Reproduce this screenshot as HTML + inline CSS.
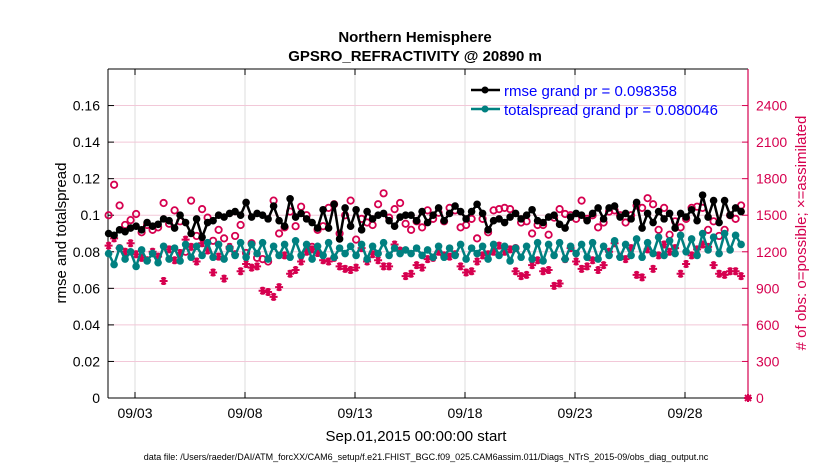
<!DOCTYPE html>
<html><head><meta charset="utf-8"><style>
body{margin:0;background:#fff;}
svg text{font-family:"Liberation Sans",sans-serif;}
</style></head><body>
<svg id="chart" width="830" height="470" xmlns="http://www.w3.org/2000/svg">
<rect width="830" height="470" fill="#fff"/>
<text x="415" y="42" font-size="15" font-weight="bold" text-anchor="middle">Northern Hemisphere</text>
<text x="415" y="61" font-size="15" font-weight="bold" text-anchor="middle">GPSRO_REFRACTIVITY @ 20890 m</text>
<g id="grid"></g>
<g id="axes"></g>
<g id="series"></g>
<text x="416" y="441" font-size="15" text-anchor="middle">Sep.01,2015 00:00:00 start</text>
<text transform="translate(66,233) rotate(-90)" font-size="15" text-anchor="middle">rmse and totalspread</text>
<text transform="translate(806,233) rotate(-90)" font-size="15" text-anchor="middle" fill="#d6004f"># of obs: o=possible; ×=assimilated</text>
<text x="426" y="460" font-size="9" text-anchor="middle">data file: /Users/raeder/DAI/ATM_forcXX/CAM6_setup/f.e21.FHIST_BGC.f09_025.CAM6assim.011/Diags_NTrS_2015-09/obs_diag_output.nc</text>
<g>
<g>
<line x1="471" y1="90" x2="500" y2="90" stroke="#000" stroke-width="2.5"/><circle cx="485" cy="90" r="3.5" fill="#000"/>
<text x="504" y="96" font-size="15" fill="#0000ff">rmse grand pr = 0.098358</text></g>
<g>
<line x1="471" y1="109" x2="500" y2="109" stroke="#008080" stroke-width="2.5"/><circle cx="485" cy="109" r="3.5" fill="#008080"/>
<text x="504" y="115" font-size="15" fill="#0000ff">totalspread grand pr = 0.080046</text></g>
</g>
</svg>
<script>
const xTickLabels=["09/03","09/08","09/13","09/18","09/23","09/28"];
const xTickDays=[2,7,12,17,22,27];
const leftTicks=[0,0.02,0.04,0.06,0.08,0.1,0.12,0.14,0.16];
const rightTicks=[0,300,600,900,1200,1500,1800,2100,2400];
const startDay=0.8, stepDay=0.25;
const rmse=[0.090,0.089,0.092,0.091,0.093,0.094,0.092,0.096,0.094,0.095,
0.098,0.097,0.093,0.100,0.096,0.090,0.098,0.088,0.096,0.097,
0.100,0.099,0.101,0.102,0.100,0.107,0.099,0.101,0.100,0.098,
0.105,0.097,0.094,0.109,0.099,0.101,0.098,0.096,0.093,0.103,
0.093,0.106,0.087,0.104,0.094,0.103,0.092,0.102,0.098,0.100,
0.101,0.097,0.094,0.099,0.100,0.100,0.097,0.102,0.096,0.100,
0.104,0.097,0.101,0.105,0.102,0.098,0.102,0.106,0.101,0.092,
0.097,0.098,0.096,0.099,0.101,0.098,0.100,0.103,0.097,0.096,
0.099,0.100,0.095,0.093,0.099,0.101,0.100,0.097,0.101,0.104,
0.098,0.104,0.105,0.099,0.101,0.098,0.107,0.093,0.101,0.096,
0.102,0.098,0.101,0.093,0.101,0.099,0.103,0.097,0.111,0.099,
0.108,0.096,0.108,0.100,0.104,0.102];
const spread=[0.079,0.073,0.082,0.076,0.080,0.072,0.081,0.075,0.079,0.074,
0.083,0.076,0.082,0.075,0.084,0.077,0.083,0.078,0.085,0.077,
0.084,0.076,0.082,0.078,0.085,0.077,0.084,0.079,0.085,0.076,
0.083,0.078,0.084,0.077,0.086,0.078,0.084,0.076,0.083,0.078,
0.085,0.077,0.082,0.079,0.083,0.078,0.084,0.076,0.083,0.079,
0.085,0.078,0.082,0.079,0.081,0.079,0.082,0.078,0.081,0.077,
0.083,0.077,0.082,0.078,0.084,0.076,0.082,0.079,0.083,0.076,
0.084,0.078,0.083,0.075,0.082,0.077,0.083,0.076,0.085,0.075,
0.084,0.078,0.085,0.076,0.083,0.079,0.084,0.077,0.085,0.076,
0.083,0.078,0.086,0.077,0.084,0.078,0.087,0.077,0.085,0.079,
0.088,0.078,0.086,0.079,0.089,0.080,0.087,0.078,0.090,0.081,
0.088,0.079,0.090,0.081,0.089,0.084];
const possible=[1500,1750,1580,1420,1460,1510,1360,1420,1380,1400,
1600,1430,1540,1450,1200,1620,1330,1550,1480,1290,
1380,1310,1230,1330,1420,1190,1270,1150,1140,1120,1620,1350,1400,1530,1410,1570,1500,1240,1380,1410,
1560,1590,1350,1500,1620,1300,1470,1440,1420,1590,
1680,1480,1550,1600,1430,1380,1450,1400,1540,1470,
1520,1450,1560,1540,1400,1420,1470,1310,1470,1360,
1540,1550,1560,1550,1230,1440,1450,1350,1420,1420,
1340,1480,1550,1510,1500,1470,1620,1470,1500,1400,
1440,1530,1540,1500,1440,1500,1580,1560,1640,1590,
1380,1560,1340,1450,1400,1470,1560,1570,1560,1380,
1450,1330,1380,1500,1470,1580];
const assimilated=[1250,1310,1230,1200,1270,1180,1150,1130,1200,1160,
960,1220,1130,1190,1300,1240,1120,1270,1210,1030,
1160,980,1240,1180,1040,1100,1070,1080,880,870,
830,910,1170,1020,1050,1120,1200,1220,1190,1130,
1120,1150,1080,1060,1050,1070,1230,1120,1180,1130,
1080,1080,1260,1210,1000,1020,1090,1070,1140,1150,
1200,1170,1160,1180,1080,1030,1040,1120,1170,1180,
1200,1250,1200,1220,1040,1000,1010,1090,1130,1040,
1050,920,940,1140,1230,1120,1060,1080,1130,1050,
1090,1200,1270,1160,1140,1230,1010,990,1220,1060,
1170,1260,1200,1230,1020,1100,1170,1220,1260,1240,
1090,1020,1010,1040,1040,1000];

const NS="http://www.w3.org/2000/svg";
const L=108,R=748,T=69,B=398;
const x=d=>91+22*d;
const yL=v=>B-(v/0.18)*(B-T);
const yR=v=>B-(v/2700)*(B-T);
function mk(tag,attrs,parent){const e=document.createElementNS(NS,tag);for(const k in attrs)e.setAttribute(k,attrs[k]);parent.appendChild(e);return e;}
const grid=document.getElementById('grid'),axes=document.getElementById('axes'),ser=document.getElementById('series');

xTickDays.forEach((d,i)=>{
  const g=mk('line',{x1:x(d),x2:x(d),y1:T,y2:B,stroke:'#dcdcdc','stroke-width':1},grid);
  
  
  const t=mk('line',{x1:x(d),x2:x(d),y1:B,y2:B-6,stroke:'#000'},axes);
  
  
  const t2=mk('line',{x1:x(d),x2:x(d),y1:T,y2:T+6,stroke:'#000'},axes);
  
  
  const lb=mk('text',{x:x(d),y:B+20,'font-size':14,'text-anchor':'middle'},axes);
  lb.textContent=xTickLabels[i];
  
  
});
rightTicks.forEach(v=>{
  if(v>0){const g=mk('line',{x1:L,x2:R,y1:yR(v),y2:yR(v),stroke:'#f2c8d8','stroke-width':1},grid);
  
  }
  const t=mk('line',{x1:R,x2:R-6,y1:yR(v),y2:yR(v),stroke:'#d6004f'},axes);
  
  
  const lb=mk('text',{x:R+8,y:yR(v)+5,'font-size':14,fill:'#d6004f'},axes);
  lb.textContent=v;
  
  
});
leftTicks.forEach(v=>{
  const t=mk('line',{x1:L,x2:L+6,y1:yL(v),y2:yL(v),stroke:'#000'},axes);
  
  
  const lb=mk('text',{x:L-8,y:yL(v)+5,'font-size':14,'text-anchor':'end'},axes);
  lb.textContent=String(v);
  
  
});
const la=mk('line',{x1:L,x2:L,y1:T,y2:B,stroke:'#000'},axes);


const ba=mk('line',{x1:L,x2:R,y1:B,y2:B,stroke:'#000'},axes);


const ta=mk('line',{x1:L,x2:R,y1:T,y2:T,stroke:'#000'},axes);


const ra=mk('line',{x1:R,x2:R,y1:T,y2:B,stroke:'#d6004f','stroke-width':1.2},axes);



const dayOf=i=>startDay+stepDay*i;
possible.forEach((v,i)=>{
  const c=mk('circle',{cx:x(dayOf(i)),cy:yR(v),r:3.2,fill:'none',stroke:'#d6004f','stroke-width':1.8},ser);
  
  
});
assimilated.forEach((v,i)=>{
  const cx=x(dayOf(i)),cy=yR(v),s=4;
  const p=mk('path',{d:`M${cx-s} ${cy}H${cx+s}M${cx-s*0.5} ${cy-s*0.87}L${cx+s*0.5} ${cy+s*0.87}M${cx-s*0.5} ${cy+s*0.87}L${cx+s*0.5} ${cy-s*0.87}M${cx} ${cy-s}V${cy+s}`,stroke:'#d6004f','stroke-width':2},ser);
  
  
});
function lineSeries(arr,color,name){
  const pl=mk('polyline',{points:arr.map((v,i)=>x(dayOf(i))+','+yL(v)).join(' '),fill:'none',stroke:color,'stroke-width':2.5,'stroke-linejoin':'round'},ser);
  
  
  arr.forEach((v,i)=>{
    const c=mk('circle',{cx:x(dayOf(i)),cy:yL(v),r:3.8,fill:color},ser);
    
    
  });
}
lineSeries(spread,'#008080','totalspread');
lineSeries(rmse,'#000000','rmse');
const em=mk('path',{d:`M${R-4} ${B}H${R+4}M${R} ${B-4}V${B+4}M${R-3} ${B-3}L${R+3} ${B+3}M${R-3} ${B+3}L${R+3} ${B-3}`,stroke:'#d6004f','stroke-width':2},ser);


</script>
</body></html>
